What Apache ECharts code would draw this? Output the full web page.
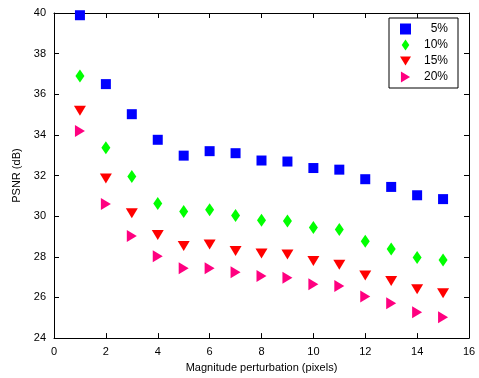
<!DOCTYPE html>
<html>
<head>
<meta charset="utf-8">
<script src="https://cdn.jsdelivr.net/npm/echarts@6/dist/echarts.min.js"></script>
<style>
  html, body { margin: 0; padding: 0; background: #fff; }
  #chart { width: 479px; height: 378px; }
</style>
</head>
<body>
<div id="chart"></div>
<script>
var xValues = [1, 2, 3, 4, 5, 6, 7, 8, 9, 10, 11, 12, 13, 14, 15];
var psnr5  = [39.89, 36.5, 35.02, 33.76, 32.98, 33.2, 33.1, 32.74, 32.69, 32.37, 32.29, 31.82, 31.44, 31.03, 30.84];
var psnr10 = [36.9, 33.37, 31.95, 30.63, 30.23, 30.32, 30.03, 29.8, 29.76, 29.44, 29.34, 28.77, 28.39, 27.97, 27.84];
var psnr15 = [35.19, 31.85, 30.15, 29.08, 28.53, 28.61, 28.29, 28.16, 28.11, 27.79, 27.61, 27.08, 26.81, 26.4, 26.21];
var psnr20 = [34.19, 30.6, 29.02, 28.03, 27.44, 27.44, 27.24, 27.06, 26.97, 26.65, 26.56, 26.05, 25.71, 25.27, 25.03];

function pairs(ys) {
    return xValues.map(function (x, i) { return [x, ys[i]]; });
}

var font = 'Liberation Sans, Arial, sans-serif';
var axisCommon = {
    type: 'value',
    axisLine: { show: true, onZero: false, lineStyle: { color: '#000', width: 1 } },
    axisTick: { show: true, inside: true, length: 5, lineStyle: { color: '#000' } },
    splitLine: { show: false },
    axisLabel: { color: '#000', fontFamily: font, fontSize: 11 }
};

function axis(extra) {
    return Object.assign({}, JSON.parse(JSON.stringify(axisCommon)), extra);
}

// marker shapes for the legend (series use built-in symbols)
var downTri = 'path://M0,0L12,0L6,10Z';
var rightTri = 'path://M0,0L10,6L0,12Z';
var diamond = 'path://M4.5,0L9,6.5L4.5,13L0,6.5Z';

var chart = echarts.init(document.getElementById('chart'));
chart.setOption({
    backgroundColor: '#fff',
    animation: false,
    grid: { left: 54, right: 10, top: 13, bottom: 38 },
    legend: {
        right: 21, top: 18,
        orient: 'vertical',
        backgroundColor: '#fff',
        borderColor: '#000',
        borderWidth: 1,
        padding: [5, 10, 5, 11],
        itemGap: 4,
        itemWidth: 11, itemHeight: 11,
        formatter: '{a|{name}}',
        textStyle: {
            rich: { a: { width: 32, align: 'right', fontFamily: font, fontSize: 12, color: '#000' } }
        },
        data: [
            { name: '5%', icon: 'rect' },
            { name: '10%', icon: diamond },
            { name: '15%', icon: downTri },
            { name: '20%', icon: rightTri }
        ]
    },
    xAxis: [
        axis({ min: 0, max: 16, interval: 2, position: 'bottom',
            name: 'Magnitude perturbation (pixels)', nameLocation: 'middle', nameGap: 18,
            nameTextStyle: { color: '#000', fontFamily: font, fontSize: 11 } }),
        axis({ min: 0, max: 16, interval: 2, position: 'top', axisLabel: { show: false } })
    ],
    yAxis: [
        axis({ min: 24, max: 40, interval: 2, position: 'left',
            name: 'PSNR (dB)', nameLocation: 'middle', nameGap: 26,
            nameTextStyle: { color: '#000', fontFamily: font, fontSize: 11 } }),
        axis({ min: 24, max: 40, interval: 2, position: 'right', axisLabel: { show: false } })
    ],
    series: [
        { name: '5%', type: 'scatter', symbol: 'rect', symbolSize: 10,
          itemStyle: { color: '#0000ff', opacity: 1 }, data: pairs(psnr5) },
        { name: '10%', type: 'scatter', symbol: 'diamond', symbolSize: [9, 13],
          itemStyle: { color: '#00ff00', opacity: 1 }, data: pairs(psnr10) },
        { name: '15%', type: 'scatter', symbol: 'triangle', symbolSize: [12, 10], symbolRotate: 180,
          itemStyle: { color: '#ff0000', opacity: 1 }, data: pairs(psnr15) },
        { name: '20%', type: 'scatter', symbol: 'triangle', symbolSize: [12, 10], symbolRotate: -90,
          itemStyle: { color: '#ff0080', opacity: 1 }, data: pairs(psnr20) }
    ]
});
</script>
</body>
</html>
